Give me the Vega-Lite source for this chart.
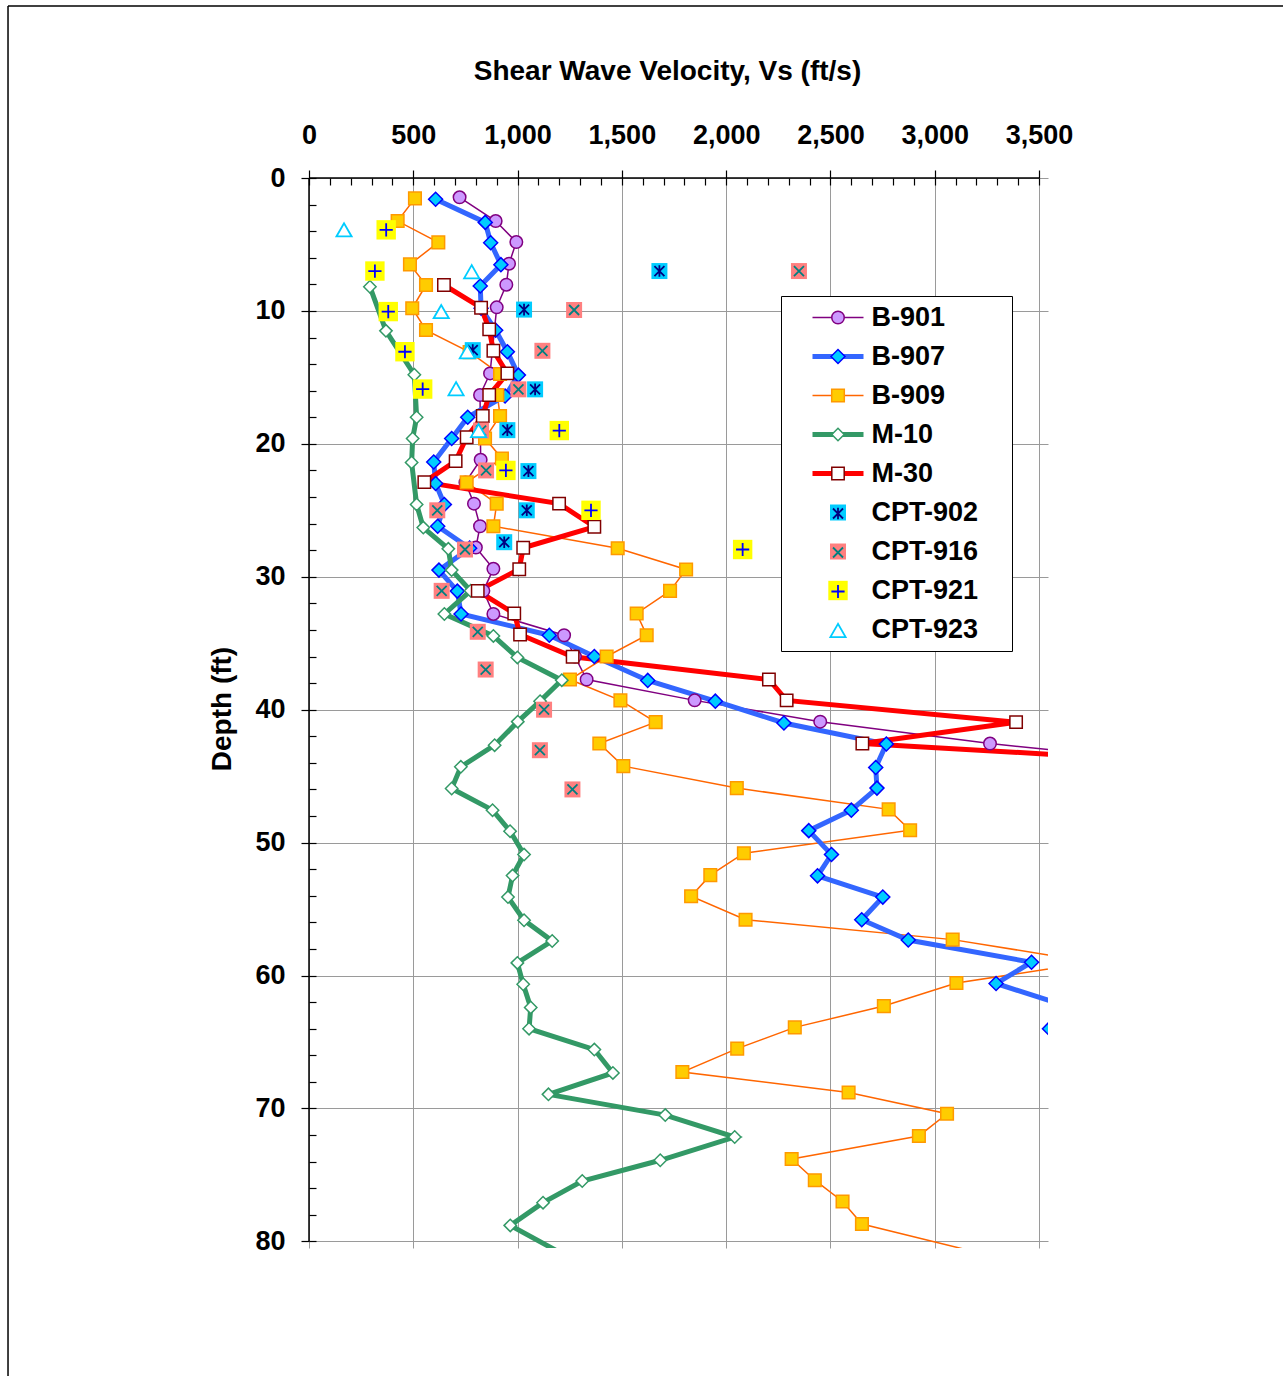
{
  "$schema": "https://vega.github.io/schema/vega-lite/v6.json",
  "width": 739,
  "height": 1070,
  "autosize": {"type": "none"},
  "padding": {"left": 309, "top": 178, "right": 235, "bottom": 128},
  "background": "white",
  "config": {"view": {"stroke": null}, "font": "Liberation Sans"},
  "data": {
    "values": [
      {"s": "B-901", "v": 722, "d": 1.45}, {"s": "B-901", "v": 895, "d": 3.24}, {"s": "B-901", "v": 994, "d": 4.82},
      {"s": "B-901", "v": 959, "d": 6.45}, {"s": "B-901", "v": 946, "d": 8.03}, {"s": "B-901", "v": 900, "d": 9.73},
      {"s": "B-901", "v": 868, "d": 14.7}, {"s": "B-901", "v": 820, "d": 16.33}, {"s": "B-901", "v": 823, "d": 21.2},
      {"s": "B-901", "v": 750, "d": 22.9}, {"s": "B-901", "v": 791, "d": 24.5}, {"s": "B-901", "v": 820, "d": 26.2},
      {"s": "B-901", "v": 800, "d": 27.8}, {"s": "B-901", "v": 884, "d": 29.4}, {"s": "B-901", "v": 836, "d": 31.06},
      {"s": "B-901", "v": 884, "d": 32.8}, {"s": "B-901", "v": 1223, "d": 34.4}, {"s": "B-901", "v": 1275, "d": 36.0},
      {"s": "B-901", "v": 1331, "d": 37.73}, {"s": "B-901", "v": 1849, "d": 39.3}, {"s": "B-901", "v": 2451, "d": 40.9},
      {"s": "B-901", "v": 3265, "d": 42.55}, {"s": "B-901", "v": 4300, "d": 44.2},

      {"s": "B-907", "v": 607, "d": 1.6}, {"s": "B-907", "v": 845, "d": 3.34}, {"s": "B-907", "v": 871, "d": 4.87},
      {"s": "B-907", "v": 920, "d": 6.52}, {"s": "B-907", "v": 821, "d": 8.13}, {"s": "B-907", "v": 825, "d": 9.8},
      {"s": "B-907", "v": 895, "d": 11.45}, {"s": "B-907", "v": 951, "d": 13.07}, {"s": "B-907", "v": 1004, "d": 14.83},
      {"s": "B-907", "v": 940, "d": 16.4}, {"s": "B-907", "v": 761, "d": 18.0}, {"s": "B-907", "v": 684, "d": 19.6},
      {"s": "B-907", "v": 598, "d": 21.37}, {"s": "B-907", "v": 607, "d": 22.98}, {"s": "B-907", "v": 649, "d": 24.56},
      {"s": "B-907", "v": 617, "d": 26.2}, {"s": "B-907", "v": 770, "d": 27.85}, {"s": "B-907", "v": 623, "d": 29.5},
      {"s": "B-907", "v": 711, "d": 31.08}, {"s": "B-907", "v": 729, "d": 32.8}, {"s": "B-907", "v": 1152, "d": 34.4},
      {"s": "B-907", "v": 1368, "d": 36.0}, {"s": "B-907", "v": 1624, "d": 37.8}, {"s": "B-907", "v": 1948, "d": 39.36},
      {"s": "B-907", "v": 2277, "d": 41.0}, {"s": "B-907", "v": 2768, "d": 42.58}, {"s": "B-907", "v": 2717, "d": 44.35},
      {"s": "B-907", "v": 2723, "d": 45.9}, {"s": "B-907", "v": 2600, "d": 47.56}, {"s": "B-907", "v": 2396, "d": 49.1},
      {"s": "B-907", "v": 2505, "d": 50.9}, {"s": "B-907", "v": 2438, "d": 52.5}, {"s": "B-907", "v": 2751, "d": 54.1},
      {"s": "B-907", "v": 2650, "d": 55.8}, {"s": "B-907", "v": 2873, "d": 57.33}, {"s": "B-907", "v": 3464, "d": 59.0},
      {"s": "B-907", "v": 3294, "d": 60.6}, {"s": "B-907", "v": 3650, "d": 62.4}, {"s": "B-907", "v": 3550, "d": 64.0},
      {"s": "B-907", "v": 4000, "d": 65.6},

      {"s": "B-909", "v": 508, "d": 1.53}, {"s": "B-909", "v": 425, "d": 3.24}, {"s": "B-909", "v": 620, "d": 4.84},
      {"s": "B-909", "v": 484, "d": 6.5}, {"s": "B-909", "v": 561, "d": 8.05}, {"s": "B-909", "v": 495, "d": 9.8},
      {"s": "B-909", "v": 561, "d": 11.44}, {"s": "B-909", "v": 770, "d": 13.1}, {"s": "B-909", "v": 916, "d": 14.75},
      {"s": "B-909", "v": 903, "d": 16.33}, {"s": "B-909", "v": 916, "d": 17.9}, {"s": "B-909", "v": 844, "d": 19.6},
      {"s": "B-909", "v": 925, "d": 21.1}, {"s": "B-909", "v": 756, "d": 22.9}, {"s": "B-909", "v": 900, "d": 24.5},
      {"s": "B-909", "v": 884, "d": 26.2}, {"s": "B-909", "v": 1480, "d": 27.85}, {"s": "B-909", "v": 1808, "d": 29.45},
      {"s": "B-909", "v": 1731, "d": 31.06}, {"s": "B-909", "v": 1571, "d": 32.76}, {"s": "B-909", "v": 1619, "d": 34.4},
      {"s": "B-909", "v": 1427, "d": 36.0}, {"s": "B-909", "v": 1251, "d": 37.73}, {"s": "B-909", "v": 1493, "d": 39.3},
      {"s": "B-909", "v": 1662, "d": 40.94}, {"s": "B-909", "v": 1392, "d": 42.55}, {"s": "B-909", "v": 1507, "d": 44.25},
      {"s": "B-909", "v": 2051, "d": 45.9}, {"s": "B-909", "v": 2779, "d": 47.5}, {"s": "B-909", "v": 2882, "d": 49.07},
      {"s": "B-909", "v": 2085, "d": 50.8}, {"s": "B-909", "v": 1924, "d": 52.45}, {"s": "B-909", "v": 1832, "d": 54.04},
      {"s": "B-909", "v": 2093, "d": 55.8}, {"s": "B-909", "v": 3086, "d": 57.3}, {"s": "B-909", "v": 3760, "d": 59.0},
      {"s": "B-909", "v": 3104, "d": 60.56}, {"s": "B-909", "v": 2756, "d": 62.3}, {"s": "B-909", "v": 2329, "d": 63.9},
      {"s": "B-909", "v": 2053, "d": 65.5}, {"s": "B-909", "v": 1790, "d": 67.26}, {"s": "B-909", "v": 2587, "d": 68.8},
      {"s": "B-909", "v": 3059, "d": 70.4}, {"s": "B-909", "v": 2924, "d": 72.07}, {"s": "B-909", "v": 2314, "d": 73.8},
      {"s": "B-909", "v": 2425, "d": 75.4}, {"s": "B-909", "v": 2558, "d": 77.0}, {"s": "B-909", "v": 2651, "d": 78.7},
      {"s": "B-909", "v": 3300, "d": 81.2},

      {"s": "M-10", "v": 292, "d": 8.18}, {"s": "M-10", "v": 369, "d": 11.5}, {"s": "M-10", "v": 505, "d": 14.8},
      {"s": "M-10", "v": 516, "d": 18.0}, {"s": "M-10", "v": 497, "d": 19.6}, {"s": "M-10", "v": 492, "d": 21.4},
      {"s": "M-10", "v": 516, "d": 24.56}, {"s": "M-10", "v": 548, "d": 26.3}, {"s": "M-10", "v": 668, "d": 27.9},
      {"s": "M-10", "v": 684, "d": 29.5}, {"s": "M-10", "v": 775, "d": 31.05}, {"s": "M-10", "v": 649, "d": 32.8},
      {"s": "M-10", "v": 884, "d": 34.45}, {"s": "M-10", "v": 999, "d": 36.07}, {"s": "M-10", "v": 1212, "d": 37.78},
      {"s": "M-10", "v": 1108, "d": 39.36}, {"s": "M-10", "v": 1001, "d": 40.9}, {"s": "M-10", "v": 890, "d": 42.67},
      {"s": "M-10", "v": 728, "d": 44.3}, {"s": "M-10", "v": 684, "d": 45.93}, {"s": "M-10", "v": 880, "d": 47.56},
      {"s": "M-10", "v": 964, "d": 49.14}, {"s": "M-10", "v": 1031, "d": 50.9}, {"s": "M-10", "v": 976, "d": 52.48},
      {"s": "M-10", "v": 954, "d": 54.1}, {"s": "M-10", "v": 1031, "d": 55.84}, {"s": "M-10", "v": 1166, "d": 57.4},
      {"s": "M-10", "v": 999, "d": 59.05}, {"s": "M-10", "v": 1027, "d": 60.66}, {"s": "M-10", "v": 1063, "d": 62.4},
      {"s": "M-10", "v": 1055, "d": 64.0}, {"s": "M-10", "v": 1368, "d": 65.57}, {"s": "M-10", "v": 1457, "d": 67.33},
      {"s": "M-10", "v": 1148, "d": 68.94}, {"s": "M-10", "v": 1708, "d": 70.5}, {"s": "M-10", "v": 2041, "d": 72.15},
      {"s": "M-10", "v": 1684, "d": 73.9}, {"s": "M-10", "v": 1310, "d": 75.46}, {"s": "M-10", "v": 1122, "d": 77.09},
      {"s": "M-10", "v": 965, "d": 78.8}, {"s": "M-10", "v": 1280, "d": 81.5},

      {"s": "M-30", "v": 647, "d": 8.05}, {"s": "M-30", "v": 825, "d": 9.76}, {"s": "M-30", "v": 864, "d": 11.39},
      {"s": "M-30", "v": 884, "d": 13.0}, {"s": "M-30", "v": 951, "d": 14.7}, {"s": "M-30", "v": 864, "d": 16.33},
      {"s": "M-30", "v": 833, "d": 17.9}, {"s": "M-30", "v": 756, "d": 19.5}, {"s": "M-30", "v": 703, "d": 21.3},
      {"s": "M-30", "v": 553, "d": 22.88}, {"s": "M-30", "v": 1199, "d": 24.5}, {"s": "M-30", "v": 1368, "d": 26.24},
      {"s": "M-30", "v": 1027, "d": 27.82}, {"s": "M-30", "v": 1008, "d": 29.43}, {"s": "M-30", "v": 809, "d": 31.06},
      {"s": "M-30", "v": 984, "d": 32.76}, {"s": "M-30", "v": 1012, "d": 34.34}, {"s": "M-30", "v": 1264, "d": 36.02},
      {"s": "M-30", "v": 2205, "d": 37.73}, {"s": "M-30", "v": 2290, "d": 39.3}, {"s": "M-30", "v": 3390, "d": 40.94},
      {"s": "M-30", "v": 2653, "d": 42.55}, {"s": "M-30", "v": 4500, "d": 44.2},

      {"s": "CPT-902", "v": 1680, "d": 7.0}, {"s": "CPT-902", "v": 1031, "d": 9.9}, {"s": "CPT-902", "v": 785, "d": 12.95},
      {"s": "CPT-902", "v": 1084, "d": 15.9}, {"s": "CPT-902", "v": 951, "d": 18.97}, {"s": "CPT-902", "v": 1052, "d": 22.05},
      {"s": "CPT-902", "v": 1044, "d": 25.0}, {"s": "CPT-902", "v": 936, "d": 27.4},

      {"s": "CPT-916", "v": 2349, "d": 7.0}, {"s": "CPT-916", "v": 1271, "d": 9.93}, {"s": "CPT-916", "v": 1119, "d": 13.0},
      {"s": "CPT-916", "v": 1004, "d": 15.9}, {"s": "CPT-916", "v": 825, "d": 19.0}, {"s": "CPT-916", "v": 849, "d": 22.0},
      {"s": "CPT-916", "v": 615, "d": 25.0}, {"s": "CPT-916", "v": 748, "d": 27.95}, {"s": "CPT-916", "v": 636, "d": 31.06},
      {"s": "CPT-916", "v": 809, "d": 34.14}, {"s": "CPT-916", "v": 847, "d": 36.98}, {"s": "CPT-916", "v": 1127, "d": 40.0},
      {"s": "CPT-916", "v": 1107, "d": 43.05}, {"s": "CPT-916", "v": 1263, "d": 46.0},

      {"s": "CPT-921", "v": 370, "d": 3.9}, {"s": "CPT-921", "v": 316, "d": 7.0}, {"s": "CPT-921", "v": 380, "d": 10.05},
      {"s": "CPT-921", "v": 460, "d": 13.07}, {"s": "CPT-921", "v": 545, "d": 15.88}, {"s": "CPT-921", "v": 1200, "d": 19.0},
      {"s": "CPT-921", "v": 944, "d": 22.0}, {"s": "CPT-921", "v": 1352, "d": 25.0}, {"s": "CPT-921", "v": 2079, "d": 27.95},

      {"s": "CPT-923", "v": 168, "d": 3.9}, {"s": "CPT-923", "v": 780, "d": 7.05}, {"s": "CPT-923", "v": 634, "d": 10.05},
      {"s": "CPT-923", "v": 759, "d": 13.07}, {"s": "CPT-923", "v": 705, "d": 15.85}, {"s": "CPT-923", "v": 813, "d": 19.0}
    ]
  },
  "layer": [
    {
      "data": {"values": [{}]},
      "layer": [
        {
          "mark": {"type": "rule", "color": "black", "strokeWidth": 1.5},
          "encoding": {
            "x": {"datum": -1443, "type": "quantitative", "scale": {"domain": [0, 3543], "nice": false, "zero": false}, "axis": null},
            "y": {"datum": -12.94, "type": "quantitative", "scale": {"domain": [0, 80.5], "nice": false, "zero": false, "reverse": true}, "axis": null},
            "y2": {"datum": 120}
          }
        },
        {
          "mark": {"type": "rule", "color": "black", "strokeWidth": 1.5},
          "encoding": {
            "x": {"datum": -1443, "type": "quantitative", "scale": {"domain": [0, 3543], "nice": false, "zero": false}, "axis": null},
            "x2": {"datum": 6000},
            "y": {"datum": -12.94, "type": "quantitative", "scale": {"domain": [0, 80.5], "nice": false, "zero": false, "reverse": true}, "axis": null}
          }
        },
        {
          "mark": {"type": "rule", "color": "black", "strokeWidth": 1.5},
          "encoding": {
            "x": {"datum": 0, "type": "quantitative", "scale": {"domain": [0, 3543], "nice": false, "zero": false}, "axis": null},
            "x2": {"datum": 3500},
            "y": {"datum": 0, "type": "quantitative", "scale": {"domain": [0, 80.5], "nice": false, "zero": false, "reverse": true}, "axis": null}
          }
        },
        {
          "mark": {"type": "rule", "color": "black", "strokeWidth": 1.5},
          "encoding": {
            "x": {"datum": 0, "type": "quantitative", "scale": {"domain": [0, 3543], "nice": false, "zero": false}, "axis": null},
            "y": {"datum": 0, "type": "quantitative", "scale": {"domain": [0, 80.5], "nice": false, "zero": false, "reverse": true}, "axis": null},
            "y2": {"datum": 80}
          }
        }
      ]
    },
    {
      "transform": [{"filter": {"field": "s", "oneOf": ["B-901", "B-909"]}}],
      "mark": {"type": "line", "strokeWidth": 1.5, "clip": true},
      "encoding": {
        "x": {
          "field": "v", "type": "quantitative",
          "scale": {"domain": [0, 3543], "nice": false, "zero": false},
          "axis": {
            "orient": "top", "values": [0, 500, 1000, 1500, 2000, 2500, 3000, 3500], "format": ",d",
            "labelFont": "Liberation Sans", "labelFontSize": 27, "labelFontWeight": "bold", "labelColor": "black",
            "labelPadding": 21, "labelFlush": false, "labelOverlap": false, "labelBound": false,
            "tickSize": 8, "tickColor": "black", "tickWidth": 1.2, "domain": false,
            "grid": true, "gridColor": "#9a9a9a", "gridWidth": 1,
            "title": "Shear Wave Velocity, Vs (ft/s)", "titleFont": "Liberation Sans", "titleFontSize": 28,
            "titleFontWeight": "bold", "titleColor": "black", "titleX": 358, "titleY": -99,
            "titleBaseline": "alphabetic", "titleAlign": "center"
          }
        },
        "y": {
          "field": "d", "type": "quantitative",
          "scale": {"domain": [0, 80.5], "nice": false, "zero": false, "reverse": true},
          "axis": {
            "orient": "left", "values": [0, 10, 20, 30, 40, 50, 60, 70, 80], "format": "d",
            "labelFont": "Liberation Sans", "labelFontSize": 27, "labelFontWeight": "bold", "labelColor": "black",
            "labelPadding": 16, "labelFlush": false, "labelOverlap": false, "labelBound": false,
            "tickSize": 8, "tickColor": "black", "tickWidth": 1.2, "domain": false,
            "grid": true, "gridColor": "#9a9a9a", "gridWidth": 1,
            "title": "Depth (ft)", "titleFont": "Liberation Sans", "titleFontSize": 28,
            "titleFontWeight": "bold", "titleColor": "black", "titleX": -79, "titleY": 530.5,
            "titleAngle": 270, "titleBaseline": "alphabetic", "titleAlign": "center"
          }
        },
        "color": {
          "field": "s", "type": "nominal",
          "scale": {
            "domain": ["B-901", "B-907", "B-909", "M-10", "M-30", "CPT-902", "CPT-916", "CPT-921", "CPT-923"],
            "range": ["#800080", "transparent", "#FF6600", "transparent", "transparent", "transparent", "transparent", "transparent", "transparent"]
          },
          "legend": {
            "orient": "none", "legendX": 472, "legendY": 118, "direction": "vertical", "padding": 8,
            "title": "\u00a0", "titleOrient": "right", "titleFontSize": 6, "titlePadding": 26, "titleColor": "transparent",
            "symbolSize": 400, "symbolOffset": 35.5, "symbolStrokeWidth": 1.5, "symbolType": "M-2.55,0H2.55",
            "labelOffset": 20, "labelFont": "Liberation Sans", "labelFontSize": 27, "labelFontWeight": "bold",
            "labelColor": "black", "labelLimit": 400, "rowPadding": 11,
            "fillColor": "white", "strokeColor": "black"
          }
        },
        "order": {"field": "d", "type": "quantitative"}
      }
    },
    {
      "transform": [{"filter": {"field": "s", "oneOf": ["B-907", "M-10", "M-30"]}}],
      "mark": {"type": "line", "strokeWidth": 5, "clip": true},
      "encoding": {
        "x": {"field": "v", "type": "quantitative", "scale": {"domain": [0, 3543], "nice": false, "zero": false}, "axis": null},
        "y": {"field": "d", "type": "quantitative", "scale": {"domain": [0, 80.5], "nice": false, "zero": false, "reverse": true}, "axis": null},
        "color": {
          "field": "s", "type": "nominal",
          "scale": {
            "domain": ["B-901", "B-907", "B-909", "M-10", "M-30", "CPT-902", "CPT-916", "CPT-921", "CPT-923"],
            "range": ["transparent", "#3366FF", "transparent", "#339966", "#FF0000", "transparent", "transparent", "transparent", "transparent"]
          },
          "legend": {
            "orient": "none", "legendX": 472, "legendY": 118, "direction": "vertical", "padding": 8, "title": null,
            "symbolSize": 400, "symbolOffset": 35.5, "symbolStrokeWidth": 5, "symbolType": "M-2.55,0H2.55",
            "labelOffset": 20, "labelFont": "Liberation Sans", "labelFontSize": 27, "labelFontWeight": "bold",
            "labelColor": "transparent", "labelLimit": 400, "labelExpr": "''", "rowPadding": 11
          }
        },
        "order": {"field": "d", "type": "quantitative"}
      }
    },
    {
      "transform": [{"filter": {"field": "s", "oneOf": ["B-901", "B-907", "B-909", "M-10", "M-30", "CPT-902", "CPT-916", "CPT-921"]}}],
      "mark": {"type": "point", "size": 400, "strokeWidth": 1.5, "opacity": 1, "clip": true},
      "encoding": {
        "x": {
          "field": "v", "type": "quantitative",
          "scale": {"domain": [0, 3543], "nice": false, "zero": false},
          "axis": {
            "orient": "top", "labels": false, "domain": false, "grid": false, "title": null,
            "tickSize": -7, "tickColor": "black", "tickWidth": 1.2,
            "values": [0, 100, 200, 300, 400, 500, 600, 700, 800, 900, 1000, 1100, 1200, 1300, 1400, 1500, 1600, 1700, 1800, 1900, 2000, 2100, 2200, 2300, 2400, 2500, 2600, 2700, 2800, 2900, 3000, 3100, 3200, 3300, 3400, 3500]
          }
        },
        "y": {
          "field": "d", "type": "quantitative",
          "scale": {"domain": [0, 80.5], "nice": false, "zero": false, "reverse": true},
          "axis": {
            "orient": "left", "labels": false, "domain": false, "grid": false, "title": null,
            "tickSize": -7, "tickColor": "black", "tickWidth": 1.2,
            "values": [0, 2, 4, 6, 8, 10, 12, 14, 16, 18, 20, 22, 24, 26, 28, 30, 32, 34, 36, 38, 40, 42, 44, 46, 48, 50, 52, 54, 56, 58, 60, 62, 64, 66, 68, 70, 72, 74, 76, 78, 80]
          }
        },
        "shape": {
          "field": "s", "type": "nominal",
          "scale": {
            "domain": ["B-901", "B-907", "B-909", "M-10", "M-30", "CPT-902", "CPT-916", "CPT-921", "CPT-923"],
            "range": [
              "M0.625,0A0.625,0.625,0,1,1,-0.625,0A0.625,0.625,0,1,1,0.625,0Z",
              "M-0.7,0L0,-0.7L0.7,0L0,0.7Z",
              "M-0.63,-0.63H0.63V0.63H-0.63Z",
              "M-0.62,0L0,-0.62L0.62,0L0,0.62Z",
              "M-0.62,-0.62H0.62V0.62H-0.62Z",
              "M-0.8,-0.8H0.8V0.8H-0.8Z",
              "M-0.8,-0.8H0.8V0.8H-0.8Z",
              "M-0.97,-0.97H0.97V0.97H-0.97Z",
              "circle"
            ]
          },
          "legend": {
            "orient": "none", "legendX": 472, "legendY": 118, "direction": "vertical", "padding": 8, "title": null,
            "symbolSize": 400, "symbolOffset": 35.5, "symbolStrokeWidth": 1.5,
            "labelOffset": 20, "labelFont": "Liberation Sans", "labelFontSize": 27, "labelFontWeight": "bold",
            "labelColor": "transparent", "labelLimit": 400, "labelExpr": "''", "rowPadding": 11
          }
        },
        "fill": {
          "field": "s", "type": "nominal",
          "scale": {
            "domain": ["B-901", "B-907", "B-909", "M-10", "M-30", "CPT-902", "CPT-916", "CPT-921", "CPT-923"],
            "range": ["#CC99FF", "#00CCFF", "#FFCC00", "white", "white", "#00CCFF", "#FF8080", "#FFFF00", "transparent"]
          },
          "legend": {
            "orient": "none", "legendX": 472, "legendY": 118, "direction": "vertical", "padding": 8, "title": null,
            "symbolSize": 400, "symbolOffset": 35.5, "symbolStrokeWidth": 1.5,
            "labelOffset": 20, "labelFont": "Liberation Sans", "labelFontSize": 27, "labelFontWeight": "bold",
            "labelColor": "transparent", "labelLimit": 400, "labelExpr": "''", "rowPadding": 11
          }
        },
        "stroke": {
          "field": "s", "type": "nominal",
          "scale": {
            "domain": ["B-901", "B-907", "B-909", "M-10", "M-30", "CPT-902", "CPT-916", "CPT-921", "CPT-923"],
            "range": ["#800080", "#0000FF", "#FF9900", "#339966", "#800000", "transparent", "transparent", "transparent", "transparent"]
          },
          "legend": {
            "orient": "none", "legendX": 472, "legendY": 118, "direction": "vertical", "padding": 8, "title": null,
            "symbolSize": 400, "symbolOffset": 35.5, "symbolStrokeWidth": 1.5,
            "labelOffset": 20, "labelFont": "Liberation Sans", "labelFontSize": 27, "labelFontWeight": "bold",
            "labelColor": "transparent", "labelLimit": 400, "labelExpr": "''", "rowPadding": 11
          }
        }
      }
    },
    {
      "transform": [{"filter": {"field": "s", "oneOf": ["CPT-902", "CPT-916", "CPT-921", "CPT-923"]}}],
      "mark": {"type": "point", "size": 400, "strokeWidth": 1.8, "opacity": 1, "clip": true},
      "encoding": {
        "x": {"field": "v", "type": "quantitative", "scale": {"domain": [0, 3543], "nice": false, "zero": false}, "axis": null},
        "y": {"field": "d", "type": "quantitative", "scale": {"domain": [0, 80.5], "nice": false, "zero": false, "reverse": true}, "axis": null},
        "shape": {
          "field": "s", "type": "nominal",
          "scale": {
            "domain": ["B-901", "B-907", "B-909", "M-10", "M-30", "CPT-902", "CPT-916", "CPT-921", "CPT-923"],
            "range": [
              "circle", "circle", "circle", "circle", "circle",
              "M0,-0.58V0.58M-0.5,-0.5L0.5,0.5M-0.5,0.5L0.5,-0.5",
              "M-0.5,-0.5L0.5,0.5M-0.5,0.5L0.5,-0.5",
              "M-0.66,0H0.66M0,-0.66V0.66",
              "M0,-0.66L-0.76,0.66L0.76,0.66Z"
            ]
          },
          "legend": {
            "orient": "none", "legendX": 472, "legendY": 114, "direction": "vertical", "padding": 8, "title": null,
            "symbolSize": 400, "symbolOffset": 35.5, "symbolStrokeWidth": 1.8,
            "labelOffset": 20, "labelFont": "Liberation Sans", "labelFontSize": 27, "labelFontWeight": "bold",
            "labelColor": "transparent", "labelLimit": 400, "labelExpr": "''", "rowPadding": 11
          }
        },
        "fill": {
          "field": "s", "type": "nominal",
          "scale": {
            "domain": ["B-901", "B-907", "B-909", "M-10", "M-30", "CPT-902", "CPT-916", "CPT-921", "CPT-923"],
            "range": ["transparent", "transparent", "transparent", "transparent", "transparent", "transparent", "transparent", "transparent", "white"]
          },
          "legend": {
            "orient": "none", "legendX": 472, "legendY": 114, "direction": "vertical", "padding": 8, "title": null,
            "symbolSize": 400, "symbolOffset": 35.5, "symbolStrokeWidth": 1.8,
            "labelOffset": 20, "labelFont": "Liberation Sans", "labelFontSize": 27, "labelFontWeight": "bold",
            "labelColor": "transparent", "labelLimit": 400, "labelExpr": "''", "rowPadding": 11
          }
        },
        "stroke": {
          "field": "s", "type": "nominal",
          "scale": {
            "domain": ["B-901", "B-907", "B-909", "M-10", "M-30", "CPT-902", "CPT-916", "CPT-921", "CPT-923"],
            "range": ["transparent", "transparent", "transparent", "transparent", "transparent", "#000080", "#008080", "#0000FF", "#00CCFF"]
          },
          "legend": {
            "orient": "none", "legendX": 472, "legendY": 114, "direction": "vertical", "padding": 8, "title": null,
            "symbolSize": 400, "symbolOffset": 35.5, "symbolStrokeWidth": 1.8,
            "labelOffset": 20, "labelFont": "Liberation Sans", "labelFontSize": 27, "labelFontWeight": "bold",
            "labelColor": "transparent", "labelLimit": 400, "labelExpr": "''", "rowPadding": 11
          }
        }
      }
    }
  ],
  "resolve": {
    "scale": {"color": "independent", "fill": "independent", "stroke": "independent", "shape": "independent"},
    "axis": {"x": "independent", "y": "independent"}
  }
}
